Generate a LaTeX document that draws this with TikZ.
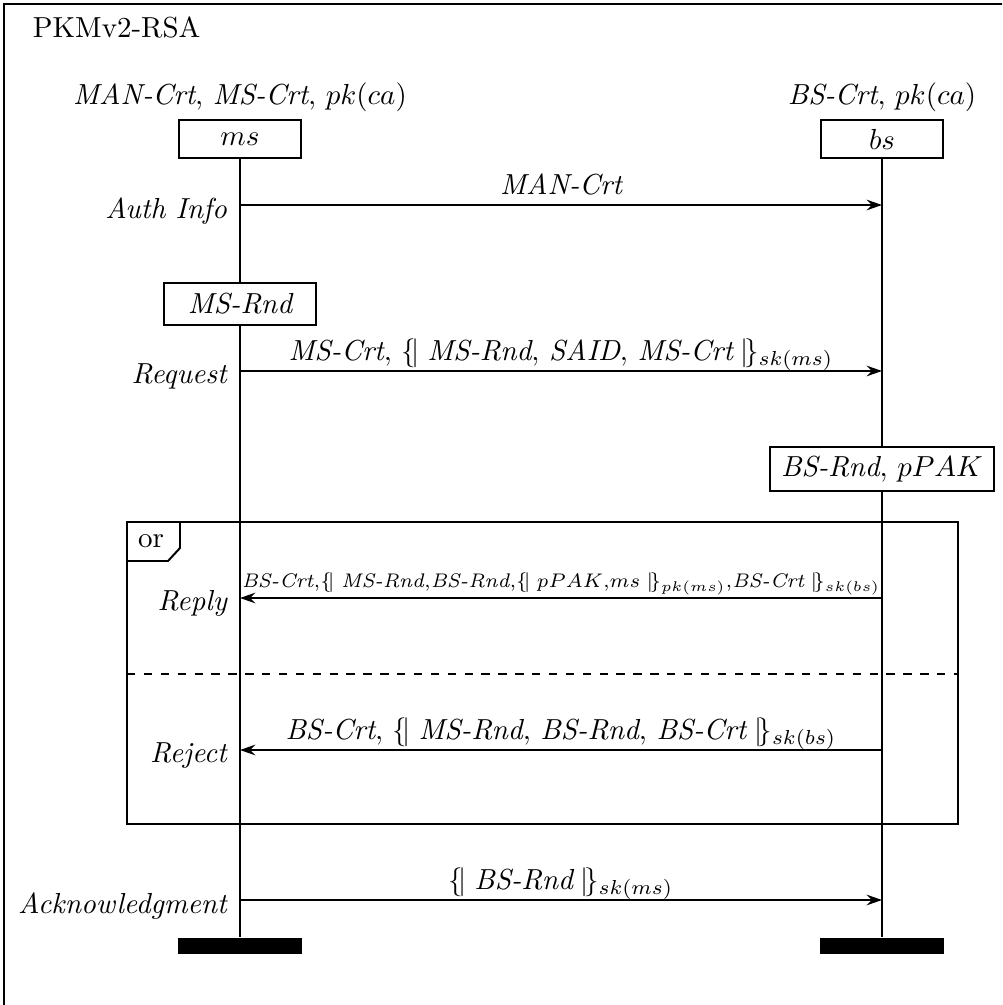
\RequirePackage{fix-cm}
\documentclass[tikz,border=0pt]{standalone}
\usepackage{amsmath,amssymb}
\usepackage{tikz}
\usetikzlibrary{arrows.meta,positioning,calc}

% encrypted term and italic names
\newcommand{\enc}[2]{\{\!|\;#1\;|\!\}_{#2}}
\newcommand{\nm}[1]{\textit{#1}}

\begin{document}
\begin{tikzpicture}[x=0.0125cm,y=-0.0125cm,line width=0.7pt,
  font=\fontsize{10.3}{12.4}\selectfont,
  inst/.style={draw,minimum width=1.525cm,minimum height=0.475cm,inner sep=0pt},
  act/.style={draw,fill=white,minimum width=1.91cm,minimum height=0.525cm,inner sep=0pt},
  endbar/.style={fill=black,minimum width=1.55cm,minimum height=0.21cm,inner sep=0pt},
  msg/.style={-{Stealth[length=5.5pt,width=3.8pt,inset=1.9pt]}},
  lbl/.style={above,text depth=0pt},
  side/.style={anchor=east,xshift=-1pt,yshift=-2pt,font=\fontsize{10.3}{12.4}\selectfont\itshape}]
\useasboundingbox (0,0) rectangle (1002,1005);
\clip (0,0) rectangle (1002,1005);
\draw (4,4) rectangle (1040,1040);
\node[anchor=base west,inner sep=0pt] (title) at (32,38) {PKMv2-RSA};

% instances
\node[inst] (ms) at (240,139) {$ms$};
\node[inst] (bs) at (882,139) {$bs$};
\node[above=0.8mm of ms,inner sep=0pt] (ms-head) {$\nm{MAN-Crt},\,\nm{MS-Crt},\,pk(ca)$};
\node[above=0.8mm of bs,inner sep=0pt] (bs-head) {$\nm{BS-Crt},\,pk(ca)$};
\node[endbar] (ms-end) at (240,946) {};
\node[endbar] (bs-end) at (882,946) {};
\draw (ms) -- (ms-end);
\draw (bs) -- (bs-end);

% levels
\coordinate (auth) at (0,205);
\coordinate (req) at (0,371);
\coordinate (rep) at (0,598);
\coordinate (rej) at (0,750);
\coordinate (ack) at (0,900);

% actions
\node[act] (ms-rnd) at (240,304) {$\nm{MS-Rnd}$};
\node[act,minimum width=2.8cm,minimum height=0.56cm] (bs-rnd) at (882,469) {$\nm{BS-Rnd},\,pPAK$};

% messages
\draw[msg] (ms |- auth) -- node[lbl] (auth-msg) {$\nm{MAN-Crt}$} (bs |- auth);
\node[side] (auth-lbl) at (ms |- auth) {Auth Info};

\draw[msg] (ms |- req) -- node[lbl] (req-msg)
  {$\nm{MS-Crt},\,\enc{\nm{MS-Rnd},\,\nm{SAID},\,\nm{MS-Crt}}{sk(ms)}$} (bs |- req);
\node[side] (req-lbl) at (ms |- req) {Request};

\draw[msg] (bs |- rep) -- node[lbl,font=\fontsize{7}{8.4}\selectfont] (rep-msg)
  {$\nm{BS-Crt}{,}\enc{\nm{MS-Rnd}{,}\nm{BS-Rnd}{,}\enc{pPAK{,}ms}{pk(ms)}{,}\nm{BS-Crt}}{sk(bs)}$} (ms |- rep);
\node[side] (rep-lbl) at (ms |- rep) {Reply};

\draw[msg] (bs |- rej) -- node[lbl] (rej-msg)
  {$\nm{BS-Crt},\,\enc{\nm{MS-Rnd},\,\nm{BS-Rnd},\,\nm{BS-Crt}}{sk(bs)}$} (ms |- rej);
\node[side] (rej-lbl) at (ms |- rej) {Reject};

\draw[msg] (ms |- ack) -- node[lbl] (ack-msg) {$\enc{\nm{BS-Rnd}}{sk(ms)}$} (bs |- ack);
\node[side] (ack-lbl) at (ms |- ack) {Acknowledgment};

% alternative
\draw (127,522) rectangle (958,824);
\draw (127,561) -- (168,561) -- (180,548) -- (180,522);
\node (or-tag) at (151,541) {or};
\draw[dashed] (127,674) -- (958,674);
\end{tikzpicture}
\end{document}
